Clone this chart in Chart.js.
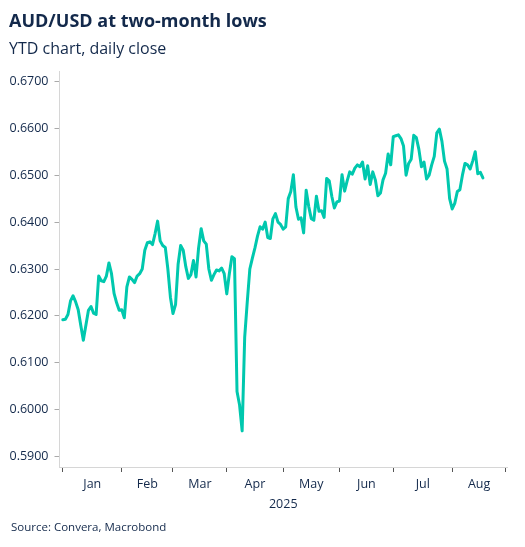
<!DOCTYPE html>
<html>
<head>
<meta charset="utf-8">
<script src="https://cdn.jsdelivr.net/npm/chart.js@4/dist/chart.umd.min.js"></script>
<style>
  body{ margin:0; background:#fff; }
  #wrap{ position:relative; width:525px; height:547px; font-family:"Open Sans", sans-serif; color:#13294b; }
  #title{ position:absolute; left:9px; top:8px; font-size:18px; font-weight:bold; line-height:24px; }
  #subtitle{ position:absolute; left:9px; top:37px; font-size:16px; line-height:22px; }
  #source{ position:absolute; left:11px; top:519px; font-size:11.5px; line-height:16px; }
  canvas{ position:absolute; left:0; top:0; }
</style>
</head>
<body>
<div id="wrap">
  <canvas id="chart" width="525" height="547"></canvas>
  <div id="title">AUD/USD at two-month lows</div>
  <div id="subtitle">YTD chart, daily close</div>
  <div id="source">Source: Convera, Macrobond</div>
</div>
<script>
// month labels and the business-day index where each month starts
const monthNames = ["Jan","Feb","Mar","Apr","May","Jun","Jul","Aug"];
const monthStarts = [0,23,43,64,86,108,129,152,173];
const yTicks = [0.59,0.60,0.61,0.62,0.63,0.64,0.65,0.66,0.67];

// AUD/USD daily close, one value per business day from 1 Jan 2025
const audUsd = [
  0.6192,0.6193,0.6203,0.6232,0.6243,0.6230,0.6213,0.6180,0.6148,0.6180,
  0.6212,0.6220,0.6206,0.6203,0.6285,0.6275,0.6273,0.6285,0.6313,0.6290,
  0.6248,0.6228,0.6212,0.6213,0.6196,0.6262,0.6283,0.6278,0.6271,0.6285,
  0.6290,0.6300,0.6340,0.6356,0.6358,0.6352,0.6375,0.6402,0.6360,0.6350,
  0.6346,0.6300,0.6240,0.6205,0.6224,0.6310,0.6350,0.6340,0.6305,0.6280,
  0.6288,0.6318,0.6283,0.6345,0.6386,0.6360,0.6353,0.6300,0.6276,0.6288,
  0.6298,0.6296,0.6302,0.6290,0.6247,0.6290,0.6326,0.6322,0.6039,0.6010,
  0.5955,0.6155,0.6230,0.6300,0.6323,0.6345,0.6370,0.6390,0.6385,0.6400,
  0.6367,0.6365,0.6407,0.6418,0.6400,0.6395,0.6385,0.6390,0.6450,0.6465,
  0.6501,0.6432,0.6406,0.6409,0.6377,0.6468,0.6433,0.6407,0.6404,0.6455,
  0.6423,0.6424,0.6410,0.6493,0.6488,0.6455,0.6430,0.6443,0.6445,0.6501,
  0.6466,0.6488,0.6507,0.6502,0.6515,0.6522,0.6518,0.6528,0.6492,0.6520,
  0.6480,0.6507,0.6490,0.6456,0.6462,0.6490,0.6504,0.6545,0.6522,0.6582,
  0.6584,0.6586,0.6578,0.6562,0.6500,0.6525,0.6534,0.6585,0.6580,0.6555,
  0.6518,0.6528,0.6492,0.6500,0.6522,0.6540,0.6590,0.6598,0.6572,0.6530,
  0.6513,0.6450,0.6428,0.6440,0.6465,0.6469,0.6500,0.6525,0.6522,0.6513,
  0.6530,0.6550,0.6503,0.6506,0.6494
];

const navy = "#13294b";
const teal = "#00c8ae";
const font = "'Open Sans', sans-serif";

let points = audUsd.map((v, i) => ({x: i, y: v}));

// tick marks sit on month starts, labels sit mid-month
let labelAt = new Map();
for(let m = 0; m < monthNames.length; m++){
  labelAt.set((monthStarts[m] + monthStarts[m + 1]) / 2, monthNames[m]);
}
let xTickValues = monthStarts.concat(Array.from(labelAt.keys())).sort((a, b) => a - b);

new Chart(document.getElementById("chart"), {
  type: "line",
  data: {
    datasets: [{
      data: points,
      borderColor: teal,
      borderWidth: 3,
      pointRadius: 0,
      tension: 0,
      borderJoinStyle: "round",
      borderCapStyle: "round"
    }]
  },
  options: {
    responsive: false,
    animation: false,
    layout: { padding: { top: 71, right: 18, bottom: 35, left: 0 } },
    plugins: { legend: { display: false }, tooltip: { enabled: false } },
    scales: {
      x: {
        type: "linear",
        min: -1.3,
        max: 173.4,
        afterBuildTicks: (axis) => { axis.ticks = xTickValues.map(v => ({value: v})); },
        ticks: {
          autoSkip: false,
          maxRotation: 0,
          color: navy,
          padding: 5,
          font: { family: font, size: 12.5 },
          callback: (v) => labelAt.has(v) ? labelAt.get(v) : ""
        },
        grid: {
          drawOnChartArea: false,
          tickLength: 5,
          tickColor: (ctx) => (ctx.tick && labelAt.has(ctx.tick.value)) ? "rgba(0,0,0,0)" : "#555"
        },
        border: { color: "#d6d6d6" },
        title: { display: true, text: "2025", color: navy, font: { family: font, size: 12.5 }, padding: { top: 0, bottom: 0 } }
      },
      y: {
        min: 0.5878,
        max: 0.6722,
        afterBuildTicks: (axis) => { axis.ticks = yTicks.map(v => ({value: v})); },
        afterFit: (axis) => { axis.width = 59.5; },
        ticks: {
          color: navy,
          padding: 6,
          font: { family: font, size: 12.5 },
          callback: (v) => v.toFixed(4)
        },
        grid: { drawOnChartArea: false, tickLength: 5, tickColor: "#aaa" },
        border: { color: "#d6d6d6" }
      }
    }
  }
});
</script>
</body>
</html>
